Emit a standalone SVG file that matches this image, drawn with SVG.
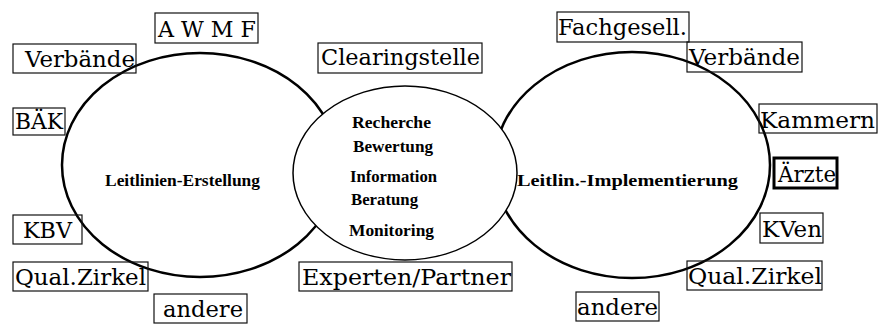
<svg xmlns="http://www.w3.org/2000/svg" width="881" height="324" viewBox="0 0 881 324">
<style>
.big{fill:none;stroke:#000;stroke-width:2.5}
.mid{fill:#fff;stroke:#000;stroke-width:1.5}
.box{fill:none;stroke:#111;stroke-width:1.2}
.thick{fill:none;stroke:#000;stroke-width:3}
.lbl{font-family:"DejaVu Serif","Liberation Serif",serif;font-size:23px;fill:#000}
.bold{font-family:"Liberation Serif","Times New Roman",serif;font-size:16.5px;font-weight:bold;fill:#000}
</style>
<rect width="881" height="324" fill="#fff"/>
<g id="ellipse-left"><ellipse class="big" cx="200" cy="165" rx="138" ry="112"/>
<text class="bold" x="105" y="186" textLength="155" lengthAdjust="spacingAndGlyphs">Leitlinien-Erstellung</text></g>
<g id="ellipse-right"><ellipse class="big" cx="632" cy="165" rx="138" ry="113"/>
<text class="bold" x="517" y="186" textLength="221" lengthAdjust="spacingAndGlyphs">Leitlin.-Implementierung</text></g>
<g id="ellipse-middle"><ellipse class="mid" cx="405" cy="173" rx="112" ry="87"/>
<text class="bold" x="352" y="128" textLength="79" lengthAdjust="spacingAndGlyphs">Recherche</text>
<text class="bold" x="353" y="152" textLength="80" lengthAdjust="spacingAndGlyphs">Bewertung</text>
<text class="bold" x="350" y="182" textLength="87" lengthAdjust="spacingAndGlyphs">Information</text>
<text class="bold" x="351" y="205" textLength="67" lengthAdjust="spacingAndGlyphs">Beratung</text>
<text class="bold" x="349" y="236" textLength="85" lengthAdjust="spacingAndGlyphs">Monitoring</text></g>
<g id="awmf"><rect class="box" x="155" y="13" width="103" height="30"/><text class="lbl" x="158" y="37" textLength="98" lengthAdjust="spacingAndGlyphs">A W M F</text></g>
<g id="verbaende-l"><rect class="box" x="13" y="44" width="123" height="29"/><text class="lbl" x="25" y="67" textLength="110" lengthAdjust="spacingAndGlyphs">Verbände</text></g>
<g id="baek"><rect class="box" x="13" y="108" width="52" height="27"/><text class="lbl" x="15" y="129" textLength="48" lengthAdjust="spacingAndGlyphs">BÄK</text></g>
<g id="kbv"><rect class="box" x="13" y="215" width="69" height="29"/><text class="lbl" x="23" y="238" textLength="49" lengthAdjust="spacingAndGlyphs">KBV</text></g>
<g id="qual-l"><rect class="box" x="13" y="262" width="135" height="29"/><text class="lbl" x="15" y="285" textLength="131" lengthAdjust="spacingAndGlyphs">Qual.Zirkel</text></g>
<g id="andere-l"><rect class="box" x="154" y="294" width="93" height="29"/><text class="lbl" x="163" y="317" textLength="80" lengthAdjust="spacingAndGlyphs">andere</text></g>
<g id="clearing"><rect class="box" x="318" y="43" width="164" height="30"/><text class="lbl" x="321" y="65" textLength="159" lengthAdjust="spacingAndGlyphs">Clearingstelle</text></g>
<g id="experten"><rect class="box" x="299" y="262" width="213" height="29"/><text class="lbl" x="302" y="285" textLength="209" lengthAdjust="spacingAndGlyphs">Experten/Partner</text></g>
<g id="fachgesell"><rect class="box" x="557" y="12" width="132" height="30"/><text class="lbl" x="558" y="35" textLength="129" lengthAdjust="spacingAndGlyphs">Fachgesell.</text></g>
<g id="verbaende-r"><rect class="box" x="687" y="42" width="115" height="30"/><text class="lbl" x="689" y="65" textLength="111" lengthAdjust="spacingAndGlyphs">Verbände</text></g>
<g id="kammern"><rect class="box" x="759" y="104" width="118" height="29"/><text class="lbl" x="760" y="128" textLength="115" lengthAdjust="spacingAndGlyphs">Kammern</text></g>
<g id="aerzte"><rect class="thick" x="774" y="158" width="63" height="30"/><text class="lbl" x="778" y="182" textLength="58" lengthAdjust="spacingAndGlyphs">Ärzte</text></g>
<g id="kven"><rect class="box" x="760" y="213" width="63" height="30"/><text class="lbl" x="762" y="237" textLength="60" lengthAdjust="spacingAndGlyphs">KVen</text></g>
<g id="qual-r"><rect class="box" x="687" y="261" width="135" height="29"/><text class="lbl" x="688" y="284" textLength="134" lengthAdjust="spacingAndGlyphs">Qual.Zirkel</text></g>
<g id="andere-r"><rect class="box" x="576" y="292" width="83" height="29"/><text class="lbl" x="577" y="315" textLength="81" lengthAdjust="spacingAndGlyphs">andere</text></g>
<g id="connectors"/>
</svg>
